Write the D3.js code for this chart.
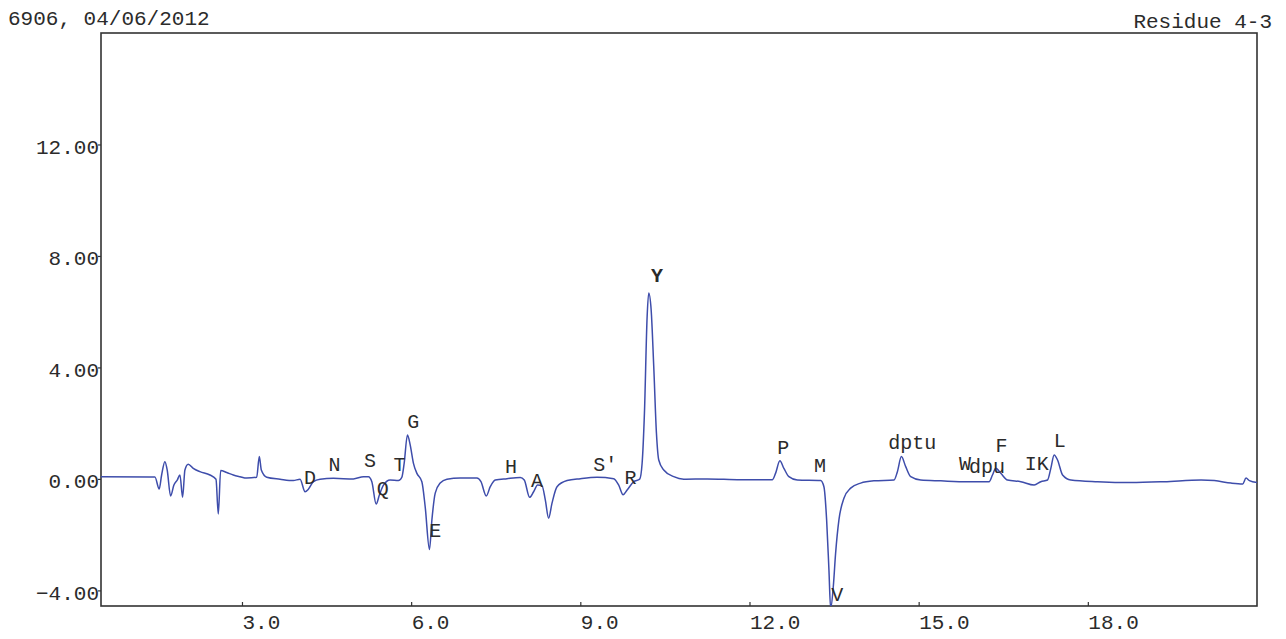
<!DOCTYPE html>
<html>
<head>
<meta charset="utf-8">
<script src="https://cdn.jsdelivr.net/npm/d3@7"></script>
<style>
  body { margin: 0; background: #fff; }
  svg text { font-family: "Courier New", "Liberation Mono", monospace; fill: #2b2b2b; }
</style>
</head>
<body>
<div id="chart"></div>
<script>
// trace (time in min, signal)
var traceT = [0.5, 1.367, 1.456, 1.532, 1.575, 1.633, 1.674, 1.734, 1.793, 1.852, 1.900, 1.947, 1.988, 2.047, 2.136, 2.255, 2.432, 2.539, 2.580, 2.622, 2.729, 2.846, 2.965, 3.084, 3.261, 3.307, 3.343, 3.439, 3.675, 3.911, 4.030, 4.119, 4.177, 4.266, 4.385, 4.621, 4.976, 5.154, 5.242, 5.303, 5.379, 5.438, 5.509, 5.628, 5.775, 5.835, 5.876, 5.935, 5.983, 6.041, 6.102, 6.190, 6.249, 6.325, 6.368, 6.427, 6.515, 6.634, 6.870, 7.167, 7.238, 7.332, 7.403, 7.492, 7.699, 7.935, 8.006, 8.101, 8.172, 8.243, 8.321, 8.379, 8.438, 8.498, 8.587, 8.765, 9.001, 9.297, 9.592, 9.681, 9.759, 9.830, 9.947, 10.053, 10.096, 10.137, 10.185, 10.213, 10.256, 10.302, 10.350, 10.391, 10.480, 10.657, 10.834, 11.250, 11.841, 12.404, 12.462, 12.539, 12.610, 12.699, 12.848, 13.261, 13.320, 13.368, 13.409, 13.439, 13.486, 13.527, 13.586, 13.675, 13.794, 13.971, 14.207, 14.563, 14.623, 14.694, 14.770, 14.859, 15.036, 15.392, 15.865, 16.249, 16.309, 16.368, 16.457, 16.576, 16.812, 17.048, 17.166, 17.285, 17.344, 17.403, 17.463, 17.552, 17.699, 18.173, 18.764, 19.355, 20.007, 20.243, 20.540, 20.747, 20.806, 20.865, 21.0];
var traceV = [0.08, 0.07, 0.07, -0.36, 0.14, 0.62, 0.32, -0.61, -0.22, -0.04, 0.14, -0.66, 0.32, 0.53, 0.38, 0.26, 0.14, -0.01, -1.26, 0.30, 0.23, 0.14, 0.08, 0.03, 0.06, 0.80, 0.32, 0.06, -0.01, -0.06, -0.01, -0.46, -0.37, -0.10, -0.01, 0.02, 0.0, 0.08, 0.08, -0.10, -0.90, -0.57, -0.22, -0.04, -0.06, 0.06, 0.56, 1.58, 1.22, 0.56, 0.20, -0.10, -1.00, -2.53, -1.47, -0.51, -0.15, -0.01, 0.03, 0.03, -0.10, -0.61, -0.28, -0.04, 0.01, 0.05, -0.04, -0.66, -0.46, -0.22, -0.25, -0.75, -1.41, -0.87, -0.28, -0.06, 0.01, 0.06, 0.01, -0.22, -0.57, -0.40, -0.10, -0.01, 0.56, 2.36, 5.83, 6.67, 6.07, 4.04, 1.64, 0.68, 0.32, 0.08, -0.01, 0.0, -0.03, -0.03, 0.20, 0.65, 0.38, 0.08, -0.04, -0.06, -0.28, -1.47, -3.27, -4.65, -3.87, -2.67, -1.47, -0.69, -0.33, -0.15, -0.07, -0.04, 0.26, 0.80, 0.44, 0.08, -0.04, -0.07, -0.10, -0.10, 0.14, 0.38, 0.20, -0.04, -0.10, -0.22, -0.10, -0.04, 0.38, 0.86, 0.68, 0.14, -0.04, -0.10, -0.13, -0.10, -0.04, -0.06, -0.15, -0.18, 0.03, -0.06, -0.13];

var peakNames = ["D", "N", "S", "Q", "T", "G", "E", "H", "A", "S'", "R", "Y", "P", "M", "V", "dptu", "W", "dpu", "F", "IK", "L"];
var peakT = [4.207, 4.639, 5.272, 5.498, 5.793, 6.036, 6.427, 7.770, 8.232, 9.444, 9.888, 10.362, 12.599, 13.249, 13.557, 14.888, 15.82, 16.21, 16.469, 17.096, 17.504];
var peakV = [0.08, 0.56, 0.68, -0.33, 0.54, 2.09, -1.83, 0.47, -0.04, 0.56, 0.06, 7.33, 1.14, 0.50, -4.11, 1.34, 0.57, 0.47, 1.22, 0.57, 1.40];

var xTicks = [3, 6, 9, 12, 15, 18];
var yTicks = [-4, 0, 4, 8, 12];

var W = 1286, H = 639;
var margin = { top: 33, right: 29, bottom: 33, left: 101 };

var svg = d3.select('#chart').append('svg')
    .attr('width', W)
    .attr('height', H);

var x = d3.scaleLinear().domain([0.5, 21.0]).range([margin.left, W - margin.right]);
var y = d3.scaleLinear().domain([-4.56, 16.0]).range([H - margin.bottom, margin.top]);

svg.append('text')
    .attr('x', 8).attr('y', 25)
    .style('font-size', '21px')
    .text('6906, 04/06/2012');
svg.append('text')
    .attr('x', 1272).attr('y', 28)
    .attr('text-anchor', 'end')
    .style('font-size', '21px')
    .text('Residue 4-3');

svg.append('clipPath').attr('id', 'plotclip')
  .append('rect')
    .attr('x', x.range()[0]).attr('y', y.range()[1])
    .attr('width', x.range()[1] - x.range()[0])
    .attr('height', y.range()[0] - y.range()[1]);

// x axis: ticks point up, labels start at the tick
var xAxis = svg.append('g')
    .attr('transform', 'translate(0,' + y.range()[0] + ')')
    .call(d3.axisBottom(x).tickValues(xTicks).tickSizeInner(-4).tickSizeOuter(0).tickFormat(d3.format('.1f')));
xAxis.select('.domain').remove();
xAxis.selectAll('line').attr('stroke', '#333').attr('stroke-width', 1.2);
xAxis.selectAll('text')
    .attr('text-anchor', 'start')
    .attr('y', 23)
    .attr('dy', 0)
    .style('font-size', '21px');

var yAxis = svg.append('g')
    .attr('transform', 'translate(' + x.range()[0] + ',0)')
    .call(d3.axisLeft(y).tickValues(yTicks).tickSizeInner(3).tickSizeOuter(0).tickFormat(d3.format('.2f')));
yAxis.select('.domain').remove();
yAxis.selectAll('line').attr('stroke', '#333').attr('stroke-width', 1.2);
yAxis.selectAll('text')
    .attr('x', -2)
    .attr('dy', '0.42em')
    .style('font-size', '21px');

svg.append('rect')
    .attr('x', x.range()[0]).attr('y', y.range()[1])
    .attr('width', x.range()[1] - x.range()[0])
    .attr('height', y.range()[0] - y.range()[1])
    .attr('fill', 'none')
    .attr('stroke', '#333')
    .attr('stroke-width', 1.6);

var pts = traceT.map(function (t, i) { return [t, traceV[i]]; });
var line = d3.line()
    .x(function (d) { return x(d[0]); })
    .y(function (d) { return y(d[1]); })
    .curve(d3.curveMonotoneX);

svg.append('path')
    .datum(pts)
    .attr('clip-path', 'url(#plotclip)')
    .attr('d', line)
    .attr('fill', 'none')
    .attr('stroke', '#3e4dab')
    .attr('stroke-width', 1.5);

svg.selectAll('.peak')
    .data(peakNames)
    .enter()
  .append('text')
    .attr('class', 'peak')
    .attr('x', function (d, i) { return x(peakT[i]); })
    .attr('y', function (d, i) { return y(peakV[i]); })
    .attr('text-anchor', 'middle')
    .attr('dy', '0.36em')
    .style('font-size', '20px')
    .style('font-weight', function (d) { return d === 'Y' ? 'bold' : 'normal'; })
    .text(function (d) { return d; });
</script>
</body>
</html>
